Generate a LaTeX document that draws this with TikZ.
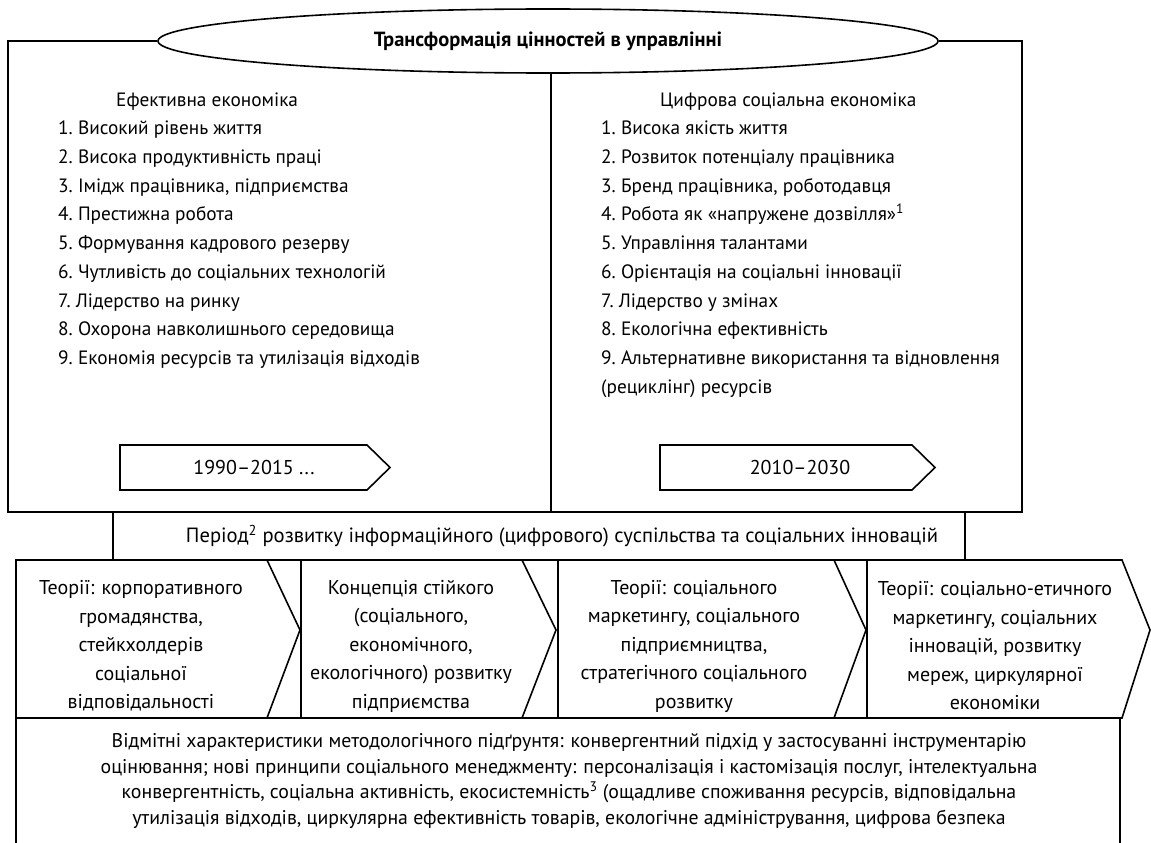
\documentclass[tikz,border=0pt]{standalone}
\usepackage{fontspec}
\setmainfont{PT Sans}
\usetikzlibrary{shapes.geometric,positioning}

\tikzset{
  frm/.style={line width=1.6pt, line join=miter},
  ttlbox/.style={draw, frm, ellipse, fill=white, minimum width=780pt, minimum height=64pt,
    inner sep=0pt, font=\fontsize{20.5}{24}\selectfont\bfseries},
  item/.style={anchor=base west, inner sep=0pt, font=\fontsize{19.3}{24}\selectfont},
  yrtxt/.style={anchor=base, inner sep=0pt, font=\fontsize{20}{24}\selectfont},
  perbar/.style={draw, frm, fill=white, minimum width=852pt, minimum height=48pt, inner sep=0pt},
  pertxt/.style={inner sep=0pt, font=\fontsize{20.6}{24}\selectfont},
  thr/.style={align=center, inner sep=0pt, font=\fontsize{20}{28.5}\selectfont},
  dsc/.style={align=center, inner sep=0pt, font=\fontsize{19.8}{25.7}\selectfont},
}

\begin{document}
\begin{tikzpicture}[x=1pt, y=-1pt]
\useasboundingbox (0,0) rectangle (1151,843);
\clip (0,0) rectangle (1151,843);

% upper frame with the title
\node[ttlbox] (ttl) at (548,41) {Трансформація цінностей в управлінні};
\draw[frm] (ttl.west) -- (8,41) -- (8,512) -- (1022,512) -- (1022,41) -- (ttl.east);
\draw[frm] (ttl.south -| 551,0) -- (551,512);

% left column
\node[item] (lhd) at (116,106.5) {Ефективна економіка};
\foreach \s [count=\i] in {Високий рівень життя, Висока продуктивність праці,
    {Імідж працівника, підприємства}, Престижна робота, Формування кадрового резерву,
    Чутливість до соціальних технологій, Лідерство на ринку,
    Охорона навколишнього середовища, Економія ресурсів та утилізація відходів}
  \node[item] (le\i) at (58,105.75+28.75*\i) {\i.~\s};

% right column
\node[item] (rhd) at (660,106.5) {Цифрова соціальна економіка};
\foreach \s [count=\i] in {Висока якість життя, Розвиток потенціалу працівника,
    {Бренд працівника, роботодавця}, Робота як «напружене дозвілля»\textsuperscript{1},
    Управління талантами, Орієнтація на соціальні інновації, Лідерство у змінах,
    Екологічна ефективність, Альтернативне використання та відновлення}
  \node[item] (ri\i) at (601,105.75+28.75*\i) {\i.~\s};
\node[item] (rc) at (601,105.75+28.75*10) {(рециклінг) ресурсів};

% periods
\draw[frm] (120,445) -- (367,445) -- (390,467.5) -- (367,490) -- (120,490) -- cycle;
\node[yrtxt] (yl) at (254,474) {1990--2015 ...};
\draw[frm] (660,445) -- (912,445) -- (935,467.5) -- (912,490) -- (660,490) -- cycle;
\node[yrtxt] (yr) at (800,474) {2010--2030};

\node[perbar] (bar) at (539,536) {};
\node[pertxt] (per) at (562,536) {Період\textsuperscript{2} розвитку інформаційного (цифрового) суспільства та соціальних інновацій};

% theories
\foreach \l/\t/\p in {16/267/300, 301/522/556, 558/834/866, 867/1122/1150}
  \draw[frm, fill=white] (\l,560) -- (\t,560) -- (\p,630) -- (\t,718) -- (\l,718) -- cycle;
\node[thr] (tha) at (141,646) {Теорії: корпоративного\\громадянства,\\стейкхолдерів\\соціальної\\відповідальності};
\node[thr] (thb) at (411,646) {Концепція стійкого\\(соціального,\\економічного,\\екологічного) розвитку\\підприємства};
\node[thr] (thc) at (694,646) {Теорії: соціального\\маркетингу, соціального\\підприємництва,\\стратегічного соціального\\розвитку};
\node[thr] (thd) at (995,646) {Теорії: соціально-етичного\\маркетингу,  соціальних\\інновацій, розвитку\\мереж, циркулярної\\економіки};

% methodology
\draw[frm] (16,860) -- (16,718) -- (1120,718) -- (1120,860);
\node[dsc] (mth) at (569,781) {Відмітні характеристики методологічного підґрунтя: конвергентний підхід у застосуванні інструментарію\\
оцінювання; нові принципи соціального менеджменту: персоналізація і кастомізація послуг, інтелектуальна\\
конвергентність, соціальна активність, екосистемність\textsuperscript{3} (ощадливе споживання ресурсів, відповідальна\\
утилізація відходів, циркулярна ефективність товарів, екологічне адміністрування, цифрова безпека};
\end{tikzpicture}
\end{document}
